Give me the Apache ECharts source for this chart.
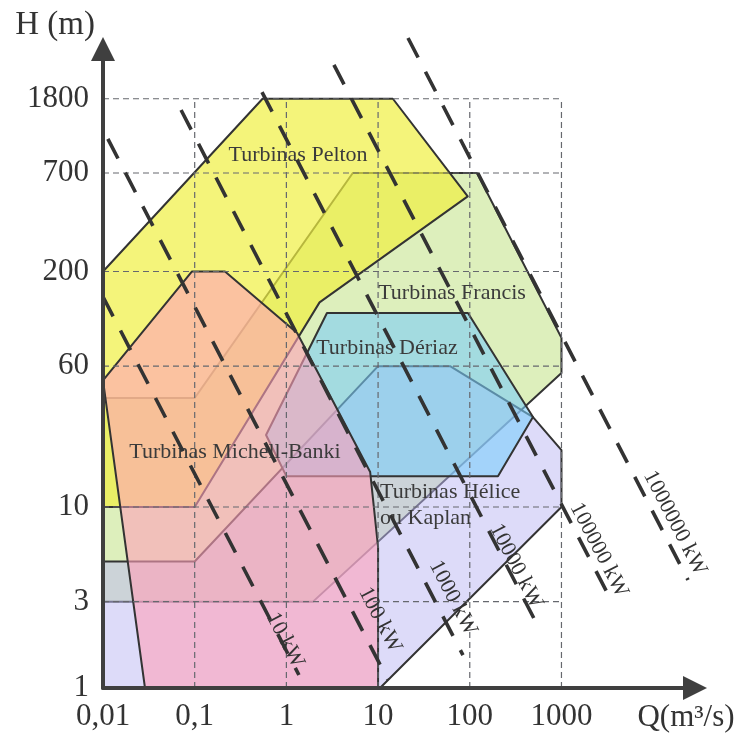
<!DOCTYPE html>
<html>
<head>
<meta charset="utf-8">
<script src="https://cdn.jsdelivr.net/npm/echarts@6/dist/echarts.min.js"></script>
<style>
html,body{margin:0;padding:0;background:#ffffff;}
#chart{width:743px;height:735px;}
</style>
</head>
<body>
<div id="chart"></div>
<script>
// ---------- data (Q in m3/s, H in m) ----------
const xTicks = [0.01, 0.1, 1, 10, 100, 1000];
const xTickLabels = ['0,01', '0,1', '1', '10', '100', '1000'];
const yTicks = [1, 3, 10, 60, 200, 700, 1800];
const yTickLabels = ['1', '3', '10', '60', '200', '700', '1800'];

const gridQ = [0.1, 1, 10, 100, 1000];
const gridH = [3, 10, 60, 200, 700, 1800];

const pelton  = [[0.01,200],[0.55,1800],[14.5,1800],[95,520],[2.3,135],[0.1,10],[0.01,10]];
const francis = [[0.01,40],[0.1,40],[5.3,700],[120,700],[1000,86],[1000,55],[1.95,3],[0.01,3]];
const kaplan  = [[0.01,5],[0.1,5],[10,60],[61,60],[489,31.4],[1000,20.6],[1000,10],[10.5,1],[0.01,1]];
const deriaz  = [[2.77,118],[95.5,118],[489,31.4],[203,14.8],[1.0,14.8],[0.6,25]];
const michell = [[0.01,50],[0.0935,200],[0.214,200],[1.31,91.5],[8.2,15.6],[10,6],[10,1],[0.0287,1]];

const turbineNames = ['Turbinas Pelton','Turbinas Francis','Turbinas Dériaz','Turbinas Michell-Banki','Turbinas Hélice\nou Kaplan'];
const turbineLabelAt = [[1.34,881],[64,152],[12.5,75.6],[0.275,20.1],[10.5,10.26]];

const powerLabels = ['10 kW','100 kW','1000 kW','10000 kW','100000 kW','1000000 kW'];
const powerStart  = [[0.01,145],[0.0113,1080],[0.071,1560],[0.542,1960],[3.3,2770],[21.2,3900]];
const powerEnd    = [[1.37,1.18],[12.8,1.11],[84.3,1.52],[583,2.09],[3556,2.99],[23990,3.95]];
const powerLabelAt = [[0.966,1.84],[10.5,2.38],[65.6,3.14],[319,4.72],[2565,5.79],[17300,8.16]];

// ---------- chart ----------
const lg = Math.log10;
const FONT = '"Liberation Serif", "DejaVu Serif", serif';
const chart = echarts.init(document.getElementById('chart'), null, {renderer:'canvas'});

function findLabel(v, ticks, labels) {
  for (let i = 0; i < ticks.length; i++) if (Math.abs(lg(ticks[i]) - v) < 1e-6) return labels[i];
  return '';
}

function polygonSeries(pts, fill, z) {
  return {
    type: 'custom', z: z, silent: true, animation: false,
    data: [[lg(pts[0][0]), lg(pts[0][1])]],
    renderItem: function (params, api) {
      const points = pts.map(p => api.coord([lg(p[0]), lg(p[1])]));
      return {type: 'polygon', shape: {points: points},
        style: {fill: fill, stroke: '#333', lineWidth: 2, lineJoin: 'round'}};
    }
  };
}

const series = [
  polygonSeries(francis, 'rgb(221,239,188)', 1),
  polygonSeries(kaplan, 'rgba(188,184,244,0.5)', 2),
  polygonSeries(pelton, 'rgba(240,240,66,0.7)', 3),
  polygonSeries(deriaz, 'rgba(120,205,250,0.58)', 4),
  polygonSeries(michell, 'rgba(255,160,185,0.6)', 5),
  // dashed reference grid
  {
    type: 'custom', z: 8, silent: true, animation: false,
    data: [[lg(0.01), lg(1)]],
    renderItem: function (params, api) {
      const children = [];
      const qMax = gridQ[gridQ.length - 1], hMax = gridH[gridH.length - 1];
      gridH.forEach(h => {
        const a = api.coord([lg(0.01), lg(h)]), b = api.coord([lg(qMax), lg(h)]);
        children.push({type: 'line', shape: {x1: a[0], y1: a[1], x2: b[0], y2: b[1]},
          style: {stroke: '#66686e', lineWidth: 1.2, lineDash: [6, 4]}});
      });
      gridQ.forEach(q => {
        const a = api.coord([lg(q), lg(1)]), b = api.coord([lg(q), lg(hMax)]);
        children.push({type: 'line', shape: {x1: a[0], y1: a[1], x2: b[0], y2: b[1]},
          style: {stroke: '#66686e', lineWidth: 1.2, lineDash: [6, 4]}});
      });
      return {type: 'group', children: children};
    }
  },
  // turbine names
  {
    type: 'custom', z: 12, silent: true, animation: false,
    data: turbineLabelAt.map(p => [lg(p[0]), lg(p[1])]),
    renderItem: function (params, api) {
      const p = api.coord([api.value(0), api.value(1)]);
      const left = params.dataIndex === 4;
      return {type: 'text', x: p[0], y: p[1],
        style: {text: turbineNames[params.dataIndex], font: '22px ' + FONT, fill: '#3b3b3b',
          align: left ? 'left' : 'center', verticalAlign: 'middle',
          textAlign: left ? 'left' : 'center', textVerticalAlign: 'middle', lineHeight: 26}};
    }
  }
];

powerLabels.forEach((lab, i) => {
  series.push({
    type: 'line', z: 20, silent: true, animation: false, clip: false, symbol: 'none',
    data: [[lg(powerStart[i][0]), lg(powerStart[i][1])], [lg(powerEnd[i][0]), lg(powerEnd[i][1])]],
    lineStyle: {color: '#333', width: 3.6, type: [22, 16]}
  });
});

series.push({
  type: 'custom', z: 22, silent: true, animation: false,
  data: powerLabelAt.map(p => [lg(p[0]), lg(p[1])]),
  renderItem: function (params, api) {
    const i = params.dataIndex;
    const a = api.coord([lg(powerStart[i][0]), lg(powerStart[i][1])]);
    const b = api.coord([lg(powerEnd[i][0]), lg(powerEnd[i][1])]);
    const ang = Math.atan2(b[1] - a[1], b[0] - a[0]);
    const p = api.coord([api.value(0), api.value(1)]);
    return {type: 'text', x: p[0], y: p[1], rotation: -ang,
      style: {text: powerLabels[i], font: '22px ' + FONT, fill: '#333',
        align: 'center', verticalAlign: 'middle', textAlign: 'center', textVerticalAlign: 'middle'}};
  }
});

const option = {
  backgroundColor: '#ffffff',
  animation: false,
  grid: {left: 103, right: 48, top: 49, bottom: 47, containLabel: false, outerBoundsMode: 'none'},
  xAxis: {
    type: 'value', min: lg(0.01), max: lg(28600), z: 30,
    axisLine: {show: true, onZero: false, lineStyle: {color: '#3f3f3f', width: 4}, symbol: ['none', 'triangle'], symbolSize: [24, 24]},
    axisTick: {show: false}, splitLine: {show: false},
    axisLabel: {customValues: xTicks.map(lg), formatter: v => findLabel(v, xTicks, xTickLabels),
      fontFamily: FONT, fontSize: 31, color: '#333', margin: 13}
  },
  yAxis: {
    type: 'value', min: lg(1), max: lg(3390), z: 30,
    axisLine: {show: true, onZero: false, lineStyle: {color: '#3f3f3f', width: 4}, symbol: ['none', 'triangle'], symbolSize: [24, 24]},
    axisTick: {show: false}, splitLine: {show: false},
    axisLabel: {customValues: yTicks.map(lg), formatter: v => findLabel(v, yTicks, yTickLabels),
      fontFamily: FONT, fontSize: 31, color: '#333', margin: 14}
  },
  graphic: [
    {type: 'text', x: 55, y: 25, z: 40,
      style: {text: 'H (m)', font: '33px ' + FONT, fill: '#333', textAlign: 'center', textVerticalAlign: 'middle', align: 'center', verticalAlign: 'middle'}},
    {type: 'text', x: 686, y: 718, z: 40,
      style: {text: 'Q(m³/s)', font: '31px ' + FONT, fill: '#333', textAlign: 'center', textVerticalAlign: 'middle', align: 'center', verticalAlign: 'middle'}}
  ],
  series: series
};
chart.setOption(option);
</script>
</body>
</html>
